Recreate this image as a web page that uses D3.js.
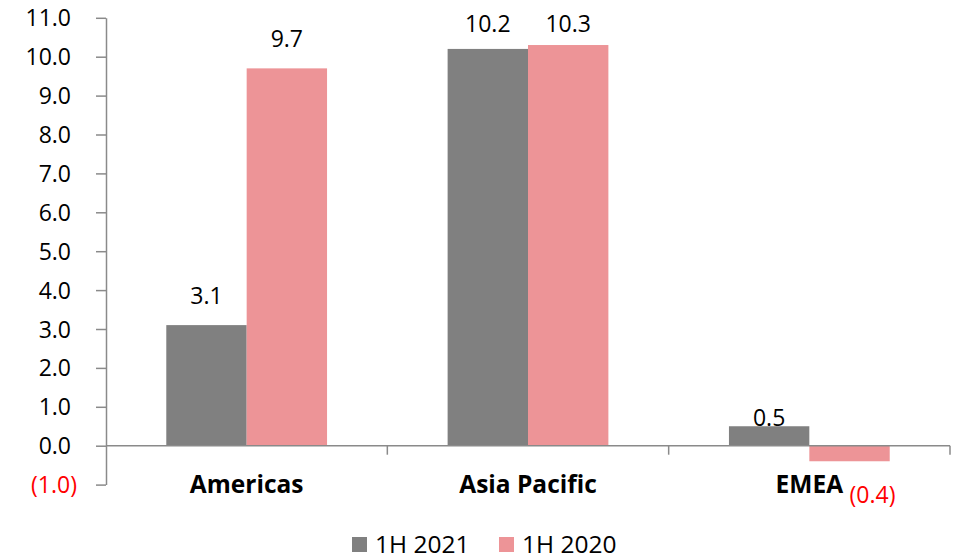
<!DOCTYPE html>
<html>
<head>
<meta charset="utf-8">
<script src="https://cdn.jsdelivr.net/npm/d3@7"></script>
<style>
  html, body { margin: 0; padding: 0; background: #fff; }
  svg { display: block; font-family: "Open Sans", "Noto Sans", sans-serif; }
</style>
</head>
<body>
<svg id="chart" width="957" height="559"></svg>
<script>
// Regional growth by half-year
const regions = ["Americas", "Asia Pacific", "EMEA"];
const seriesNames = ["1H 2021", "1H 2020"];
const values2021 = [3.1, 10.2, 0.5];
const values2020 = [9.7, 10.3, -0.4];
const yTicks = [-1, 0, 1, 2, 3, 4, 5, 6, 7, 8, 9, 10, 11];
const seriesColors = ["#808080", "#ED9497"];

const fmt = v => v < 0 ? "(" + d3.format(".1f")(-v) + ")" : d3.format(".1f")(v);

const svg = d3.select("#chart");
const plot = { left: 106, right: 950, top: 17.8, bottom: 484.6 };

const y = d3.scaleLinear().domain([-1, 11]).range([plot.bottom, plot.top]);
const x0 = d3.scaleBand().domain(regions).range([plot.left, plot.right]).padding(0);
const x1 = d3.scaleBand().domain(seriesNames).range([0, x0.bandwidth()])
  .paddingInner(0).paddingOuter(0.75);

const axisColor = "#8a8a8a";
const fontSize = 23;
const bigFont = 24.5;

// Value axis
const yAxis = svg.append("g")
  .attr("transform", `translate(${plot.left},0)`)
  .call(d3.axisLeft(y).tickValues(yTicks).tickSize(10).tickSizeOuter(0).tickFormat(fmt));
yAxis.select(".domain").attr("stroke", axisColor).attr("stroke-width", 1.5);
yAxis.selectAll(".tick line").attr("stroke", axisColor).attr("stroke-width", 1.5);
yAxis.selectAll(".tick text")
  .attr("font-size", fontSize)
  .attr("font-family", "'Open Sans', sans-serif")
  .attr("fill", d => d < 0 ? "#ff0000" : "#000")
  .attr("x", d => d < 0 ? -29 : -35)
  .attr("dy", "0.35em");

// Bars
const rows = regions.map((r, i) => ({ region: r, vals: [values2021[i], values2020[i]] }));
const groups = svg.append("g").selectAll("g").data(rows).join("g")
  .attr("transform", d => `translate(${x0(d.region)},0)`);

groups.selectAll("rect")
  .data(d => d.vals.map((v, j) => ({ key: seriesNames[j], v, j })))
  .join("rect")
  .attr("x", d => x1(d.key))
  .attr("width", x1.bandwidth())
  .attr("y", d => y(Math.max(0, d.v)))
  .attr("height", d => Math.abs(y(d.v) - y(0)))
  .attr("fill", d => seriesColors[d.j]);

// Category axis along zero
const xAxis = svg.append("g").attr("transform", `translate(0,${y(0)})`);
xAxis.append("line")
  .attr("x1", plot.left).attr("x2", plot.right)
  .attr("stroke", axisColor).attr("stroke-width", 1.5);
xAxis.selectAll("line.tick")
  .data(regions.map(r => x0(r) + x0.bandwidth()))
  .join("line").attr("class", "tick")
  .attr("x1", d => d).attr("x2", d => d)
  .attr("y1", 0).attr("y2", 9)
  .attr("stroke", axisColor).attr("stroke-width", 1.5);

svg.append("g").selectAll("text").data(regions).join("text")
  .attr("x", d => x0(d) + x0.bandwidth() / 2)
  .attr("y", 493)
  .attr("text-anchor", "middle")
  .attr("font-size", bigFont)
  .attr("font-weight", "bold")
  .text(d => d);

// Data labels
groups.selectAll("text.val")
  .data(d => d.vals.map((v, j) => ({ key: seriesNames[j], v, j })))
  .join("text").attr("class", "val")
  .attr("font-size", fontSize)
  .attr("fill", d => d.v < 0 ? "#ff0000" : "#000")
  .attr("text-anchor", d => d.v < 0 ? "start" : "middle")
  .attr("x", d => x1(d.key) + x1.bandwidth() / 2)
  .attr("y", d => {
    if (d.v < 0) return 503;
    if (d.v < 1) return y(d.v);
    return Math.max(y(d.v) - 21, 32);
  })
  .text(d => fmt(d.v));

// Legend
const legend = svg.append("g").attr("transform", "translate(352,537)");
const items = legend.selectAll("g").data(seriesNames).join("g")
  .attr("transform", (d, i) => `translate(${i * 147},0)`);
items.append("rect").attr("width", 15).attr("height", 15)
  .attr("fill", (d, i) => seriesColors[i]);
items.append("text").attr("x", 23).attr("y", 16)
  .attr("font-size", bigFont)
  .text(d => d);
</script>
</body>
</html>
